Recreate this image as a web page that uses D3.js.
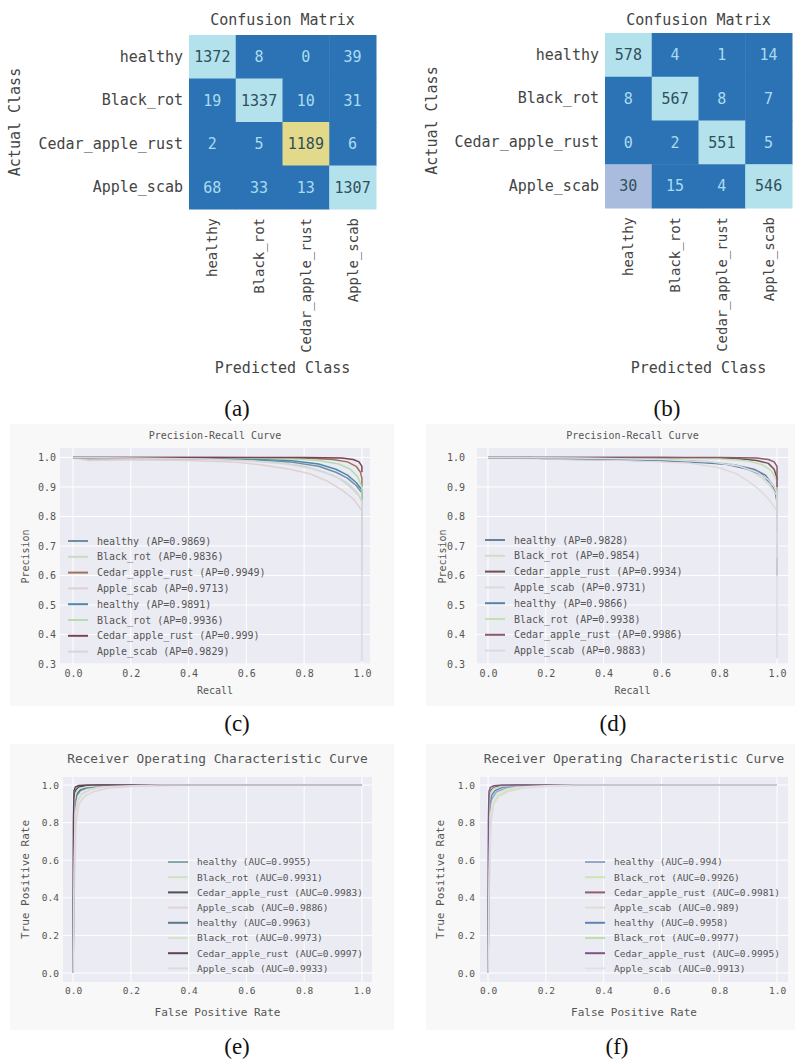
<!DOCTYPE html>
<html>
<head>
<meta charset="utf-8">
<script src="https://cdn.jsdelivr.net/npm/d3@7"></script>
<style>
  body { margin: 0; background: #fff; }
  svg { display: block; }
  text { font-family: "DejaVu Sans Mono", monospace; }
</style>
</head>
<body>
<svg width="795" height="1061"></svg>
<script>
// ---- data ----
const classes = ['healthy', 'Black_rot', 'Cedar_apple_rust', 'Apple_scab'];

const cmA = [
  [1372, 8, 0, 39],
  [19, 1337, 10, 31],
  [2, 5, 1189, 6],
  [68, 33, 13, 1307]
];
const cmB = [
  [578, 4, 1, 14],
  [8, 567, 8, 7],
  [0, 2, 551, 5],
  [30, 15, 4, 546]
];

const apC = [0.9869, 0.9836, 0.9949, 0.9713, 0.9891, 0.9936, 0.999, 0.9829];
const apD = [0.9828, 0.9854, 0.9934, 0.9731, 0.9866, 0.9938, 0.9986, 0.9883];
const aucE = [0.9955, 0.9931, 0.9983, 0.9886, 0.9963, 0.9973, 0.9997, 0.9933];
const aucF = [0.994, 0.9926, 0.9981, 0.989, 0.9958, 0.9977, 0.9995, 0.9913];

const prTicksX = [0, 0.2, 0.4, 0.6, 0.8, 1.0];
const prTicksY = [0.3, 0.4, 0.5, 0.6, 0.7, 0.8, 0.9, 1.0];
const rocTicksX = [0, 0.2, 0.4, 0.6, 0.8, 1.0];
const rocTicksY = [0, 0.2, 0.4, 0.6, 0.8, 1.0];

// precision-recall points [recall, precision]
const prC = [
  [[0,1],[0.02,1],[0.05,0.996],[0.3,0.996],[0.5,0.994],[0.65,0.99],[0.75,0.985],[0.85,0.97],[0.91,0.95],[0.95,0.93],[0.98,0.905],[1,0.88],[1,0.84]],
  [[0,1],[0.1,0.998],[0.4,0.996],[0.6,0.99],[0.72,0.982],[0.8,0.97],[0.87,0.95],[0.92,0.93],[0.96,0.9],[0.99,0.87],[1,0.85],[1,0.70]],
  [[0,1],[0.5,1],[0.8,0.998],[0.9,0.993],[0.95,0.985],[0.98,0.97],[0.995,0.95],[1,0.93],[1,0.9]],
  [[0,1],[0.05,0.99],[0.2,0.992],[0.4,0.99],[0.55,0.985],[0.65,0.975],[0.75,0.96],[0.82,0.945],[0.88,0.92],[0.93,0.89],[0.97,0.86],[1,0.82],[1,0.62]],
  [[0,1],[0.3,0.998],[0.6,0.995],[0.75,0.99],[0.85,0.978],[0.91,0.96],[0.95,0.94],[0.98,0.915],[1,0.89],[1,0.86]],
  [[0,1],[0.5,0.999],[0.75,0.996],[0.85,0.99],[0.92,0.978],[0.96,0.96],[0.985,0.935],[1,0.9],[1,0.72]],
  [[0,1],[0.8,1],[0.93,0.998],[0.97,0.993],[0.99,0.985],[1,0.97],[1,0.95]],
  [[0,1],[0.2,0.998],[0.45,0.995],[0.62,0.988],[0.74,0.978],[0.83,0.962],[0.9,0.94],[0.95,0.915],[0.985,0.88],[1,0.85],[1,0.31]]
];
const prD = [
  [[0,1],[0.15,1],[0.2,0.995],[0.4,0.992],[0.6,0.988],[0.75,0.982],[0.85,0.975],[0.92,0.96],[0.96,0.94],[0.99,0.9],[1,0.85],[1,0.6]],
  [[0,1],[0.3,0.998],[0.6,0.994],[0.75,0.988],[0.85,0.975],[0.91,0.955],[0.95,0.93],[0.98,0.9],[1,0.87],[1,0.7]],
  [[0,1],[0.6,1],[0.85,0.997],[0.93,0.99],[0.97,0.98],[0.99,0.96],[1,0.93],[1,0.8]],
  [[0,1],[0.2,0.995],[0.5,0.99],[0.7,0.98],[0.8,0.965],[0.86,0.945],[0.9,0.92],[0.94,0.89],[0.97,0.86],[1,0.82],[1,0.66]],
  [[0,1],[0.2,0.997],[0.5,0.993],[0.7,0.988],[0.82,0.978],[0.9,0.96],[0.95,0.94],[0.98,0.91],[1,0.88],[1,0.75]],
  [[0,1],[0.5,1],[0.8,0.996],[0.9,0.988],[0.95,0.975],[0.98,0.955],[1,0.92],[1,0.72]],
  [[0,1],[0.8,1],[0.93,0.998],[0.97,0.993],[0.99,0.985],[1,0.97],[1,0.9]],
  [[0,1],[0.3,0.998],[0.6,0.993],[0.77,0.985],[0.87,0.97],[0.93,0.95],[0.97,0.925],[0.99,0.9],[1,0.88],[1,0.32]]
];

// ROC points [fpr, tpr]
const rocE = [
  [[0,0],[0.003,0.6],[0.006,0.88],[0.012,0.94],[0.025,0.97],[0.05,0.985],[0.1,0.994],[0.2,0.998],[0.35,1],[1,1]],
  [[0,0],[0.004,0.55],[0.008,0.85],[0.015,0.91],[0.03,0.95],[0.06,0.975],[0.1,0.988],[0.2,0.996],[0.3,1],[1,1]],
  [[0,0],[0.002,0.7],[0.005,0.95],[0.01,0.975],[0.02,0.99],[0.05,0.997],[0.1,1],[1,1]],
  [[0,0],[0.004,0.45],[0.01,0.8],[0.02,0.9],[0.04,0.94],[0.07,0.965],[0.12,0.983],[0.2,0.993],[0.35,0.999],[1,1]],
  [[0,0],[0.003,0.65],[0.006,0.9],[0.012,0.95],[0.025,0.975],[0.05,0.99],[0.1,0.997],[0.2,1],[1,1]],
  [[0,0],[0.002,0.7],[0.005,0.92],[0.01,0.96],[0.02,0.98],[0.05,0.993],[0.1,0.998],[0.18,1],[1,1]],
  [[0,0],[0.001,0.8],[0.003,0.97],[0.008,0.99],[0.02,0.998],[0.05,1],[1,1]],
  [[0,0],[0.003,0.55],[0.007,0.84],[0.015,0.92],[0.03,0.955],[0.06,0.978],[0.1,0.99],[0.2,0.997],[0.3,1],[1,1]]
];
const rocF = [
  [[0,0],[0.003,0.55],[0.007,0.86],[0.014,0.93],[0.03,0.965],[0.06,0.982],[0.12,0.993],[0.22,0.998],[0.35,1],[1,1]],
  [[0,0],[0.004,0.5],[0.009,0.82],[0.018,0.9],[0.035,0.945],[0.07,0.972],[0.12,0.987],[0.22,0.996],[0.32,1],[1,1]],
  [[0,0],[0.002,0.7],[0.005,0.94],[0.01,0.972],[0.02,0.988],[0.05,0.996],[0.1,1],[1,1]],
  [[0,0],[0.004,0.45],[0.01,0.8],[0.02,0.9],[0.04,0.94],[0.07,0.965],[0.12,0.983],[0.22,0.994],[0.35,1],[1,1]],
  [[0,0],[0.003,0.62],[0.006,0.89],[0.012,0.945],[0.025,0.972],[0.05,0.988],[0.1,0.996],[0.2,1],[1,1]],
  [[0,0],[0.002,0.7],[0.005,0.92],[0.01,0.962],[0.02,0.982],[0.05,0.994],[0.1,0.998],[0.18,1],[1,1]],
  [[0,0],[0.001,0.8],[0.003,0.965],[0.008,0.988],[0.02,0.997],[0.05,1],[1,1]],
  [[0,0],[0.003,0.52],[0.007,0.83],[0.015,0.915],[0.03,0.952],[0.06,0.976],[0.1,0.989],[0.2,0.997],[0.3,1],[1,1]]
];

// ---- styles ----
const prColorsC = ['#6f8ea6', '#c8dcc2', '#a0705a', '#e2cfcf', '#4f88aa', '#b6dcae', '#7a4252', '#d6d6df'];
const prColorsD = ['#6a7f98', '#d3dcc6', '#705050', '#e0d9d9', '#5584aa', '#c2e0b0', '#8c5a6a', '#d9dae4'];
const rocColorsE = ['#88a7ae', '#cfe3bd', '#505050', '#e6d2d2', '#5a7888', '#d2e8c6', '#61405a', '#dcdbe5'];
const rocColorsF = ['#95a9c6', '#cbe6ae', '#8f5f6f', '#e4dcd2', '#6083b4', '#bfe0a6', '#7e5486', '#dfe1ea'];

const BLUE = '#2c73b6', CYAN = '#b3e2ec', YELLOW = '#e2d98a', LILAC = '#a9bcdd';

const svg = d3.select('svg');

function panelLabel(txt, x, y) {
  svg.append('text').attr('x', x).attr('y', y)
    .attr('text-anchor', 'middle')
    .style('font-family', '"Liberation Serif", "Times New Roman", serif')
    .style('font-size', '23px').attr('fill', '#111')
    .text(txt);
}

function drawMatrix(cfg) {
  const g = svg.append('g');
  const x = d3.scaleBand().domain(d3.range(4)).range([cfg.left, cfg.right]);
  const y = d3.scaleBand().domain(d3.range(4)).range([cfg.top, cfg.bottom]);
  const cells = cfg.data.flatMap((row, i) => row.map((v, j) => ({ i, j, v })));

  g.selectAll('rect.cell').data(cells).join('rect')
    .attr('class', 'cell')
    .attr('x', d => x(d.j)).attr('y', d => y(d.i))
    .attr('width', x.bandwidth() + 0.5).attr('height', y.bandwidth() + 0.5)
    .attr('fill', d => cfg.color(d.v));

  g.selectAll('text.val').data(cells).join('text')
    .attr('class', 'val')
    .attr('x', d => x(d.j) + x.bandwidth() / 2)
    .attr('y', d => y(d.i) + y.bandwidth() / 2)
    .attr('dy', '0.35em').attr('text-anchor', 'middle')
    .style('font-size', '15px')
    .attr('fill', d => cfg.color(d.v) === BLUE ? '#a9dcee' : '#2f4f5c')
    .text(d => d.v);

  const ya = g.append('g').attr('transform', `translate(${cfg.left},0)`)
    .call(d3.axisLeft(y).tickFormat(i => classes[i]).tickSize(0).tickPadding(6));
  ya.select('.domain').remove();
  ya.selectAll('text').style('font-size', '15px').style('font-family', '"DejaVu Sans Mono", monospace').attr('fill', '#444');

  const xa = g.append('g').attr('transform', `translate(0,${cfg.bottom})`)
    .call(d3.axisBottom(x).tickFormat(i => classes[i]).tickSize(0));
  xa.select('.domain').remove();
  xa.selectAll('text')
    .attr('transform', 'rotate(-90)').attr('text-anchor', 'end')
    .attr('x', -9).attr('y', 0).attr('dy', '0.35em')
    .style('font-size', '14px').style('font-family', '"DejaVu Sans Mono", monospace').attr('fill', '#444');

  const cx = (cfg.left + cfg.right) / 2;
  g.append('text').attr('x', cx).attr('y', 25).attr('text-anchor', 'middle')
    .style('font-size', '15px').attr('fill', '#444').text('Confusion Matrix');
  g.append('text').attr('x', cx).attr('y', 373).attr('text-anchor', 'middle')
    .style('font-size', '15px').attr('fill', '#444').text('Predicted Class');
  g.append('text').attr('transform', `translate(${cfg.ylabX},${(cfg.top + cfg.bottom) / 2}) rotate(-90)`)
    .attr('text-anchor', 'middle').attr('dy', '0.35em')
    .style('font-size', '15px').attr('fill', '#444').text('Actual Class');
}

let clipId = 0;
function drawCurves(cfg) {
  const g = svg.append('g');
  const x = d3.scaleLinear().domain(cfg.xDom).range([cfg.left, cfg.right]);
  const y = d3.scaleLinear().domain(cfg.yDom).range([cfg.bottom, cfg.top]);

  // faint figure face behind the axes
  g.append('rect').attr('x', cfg.fig[0]).attr('y', cfg.fig[1])
    .attr('width', cfg.fig[2]).attr('height', cfg.fig[3]).attr('fill', '#f8f8f8');

  g.append('rect').attr('x', cfg.left).attr('y', cfg.top)
    .attr('width', cfg.right - cfg.left).attr('height', cfg.bottom - cfg.top)
    .attr('fill', '#ebebf3');

  g.selectAll('line.gx').data(cfg.ticksX).join('line').attr('class', 'gx')
    .attr('x1', d => x(d)).attr('x2', d => x(d))
    .attr('y1', cfg.top).attr('y2', cfg.bottom)
    .attr('stroke', '#fff').attr('stroke-width', 1);
  g.selectAll('line.gy').data(cfg.ticksY).join('line').attr('class', 'gy')
    .attr('y1', d => y(d)).attr('y2', d => y(d))
    .attr('x1', cfg.left).attr('x2', cfg.right)
    .attr('stroke', '#fff').attr('stroke-width', 1);

  const id = 'clip' + (clipId++);
  g.append('clipPath').attr('id', id).append('rect')
    .attr('x', cfg.left).attr('y', cfg.top)
    .attr('width', cfg.right - cfg.left).attr('height', cfg.bottom - cfg.top);

  const line = d3.line().x(d => x(d[0])).y(d => y(d[1]));
  g.append('g').attr('clip-path', `url(#${id})`)
    .selectAll('path').data(cfg.series).join('path')
    .attr('d', line).attr('fill', 'none')
    .attr('stroke', (d, i) => cfg.colors[i]).attr('stroke-width', 1.5)
    .attr('stroke-linejoin', 'round');

  const xa = g.append('g').attr('transform', `translate(0,${cfg.bottom})`)
    .call(d3.axisBottom(x).tickValues(cfg.ticksX).tickFormat(d3.format('.1f')).tickSize(0));
  xa.select('.domain').remove();
  xa.selectAll('text').attr('y', cfg.xGap).attr('dy', '0.35em')
    .style('font-size', cfg.tickFont + 'px').style('font-family', '"DejaVu Sans Mono", monospace').attr('fill', '#555');

  const ya = g.append('g').attr('transform', `translate(${cfg.left},0)`)
    .call(d3.axisLeft(y).tickValues(cfg.ticksY).tickFormat(d3.format('.1f')).tickSize(0).tickPadding(cfg.yGap));
  ya.select('.domain').remove();
  ya.selectAll('text')
    .style('font-size', cfg.tickFont + 'px').style('font-family', '"DejaVu Sans Mono", monospace').attr('fill', '#555');

  const cx = (cfg.left + cfg.right) / 2;
  g.append('text').attr('x', cx).attr('y', cfg.titleY).attr('dy', '0.35em')
    .attr('text-anchor', 'middle').style('font-size', cfg.titleFont + 'px')
    .attr('fill', '#555').text(cfg.title);
  g.append('text').attr('x', cx).attr('y', cfg.xlabY).attr('dy', '0.35em')
    .attr('text-anchor', 'middle').style('font-size', cfg.labFont + 'px')
    .attr('fill', '#555').text(cfg.xlab);
  g.append('text')
    .attr('transform', `translate(${cfg.ylabX},${(cfg.top + cfg.bottom) / 2}) rotate(-90)`)
    .attr('dy', '0.35em').attr('text-anchor', 'middle')
    .style('font-size', cfg.labFont + 'px').attr('fill', '#555').text(cfg.ylab);

  const leg = g.append('g');
  const rows = leg.selectAll('g').data(cfg.labels).join('g')
    .attr('transform', (d, i) => `translate(${cfg.legX},${cfg.legY + i * cfg.legStep})`);
  rows.append('line').attr('x1', 0).attr('x2', 20).attr('y1', 0).attr('y2', 0)
    .attr('stroke', (d, i) => cfg.colors[i]).attr('stroke-width', 2);
  rows.append('text').attr('x', 29).attr('dy', '0.35em')
    .style('font-size', cfg.legFont + 'px').attr('fill', '#555').text(d => d);
}

// ---- confusion matrices ----
drawMatrix({
  data: cmA, left: 189, right: 376, top: 35, bottom: 209, ylabX: 15,
  color: d3.scaleThreshold().domain([200, 1250]).range([BLUE, YELLOW, CYAN])
});
drawMatrix({
  data: cmB, left: 605, right: 792, top: 33, bottom: 208, ylabX: 432,
  color: d3.scaleThreshold().domain([20, 200]).range([BLUE, LILAC, CYAN])
});

// ---- precision-recall ----
const prBase = {
  top: 448, bottom: 665, yDom: [0.297, 1.032],
  ticksX: prTicksX, ticksY: prTicksY,
  title: 'Precision-Recall Curve', xlab: 'Recall', ylab: 'Precision',
  titleY: 435, xlabY: 690, xGap: 8,
  tickFont: 10, titleFont: 10, labFont: 10, legFont: 10, legStep: 15.8
};
drawCurves(Object.assign({}, prBase, {
  left: 60, right: 370, xDom: [-0.045, 1.028], yGap: 4, ylabX: 25,
  fig: [10, 424, 384, 282],
  series: prC, colors: prColorsC,
  labels: apC.map((v, i) => `${classes[i % 4]} (AP=${v})`),
  legX: 68, legY: 541
}));
drawCurves(Object.assign({}, prBase, {
  left: 477, right: 788, xDom: [-0.038, 1.038], yGap: 12, ylabX: 442,
  fig: [426, 424, 369, 282],
  series: prD, colors: prColorsD,
  labels: apD.map((v, i) => `${classes[i % 4]} (AP=${v})`),
  legX: 485, legY: 540
}));

// ---- ROC ----
const rocBase = {
  top: 777, bottom: 982, yDom: [-0.048, 1.043],
  ticksX: rocTicksX, ticksY: rocTicksY,
  title: 'Receiver Operating Characteristic Curve', xlab: 'False Positive Rate', ylab: 'True Positive Rate',
  titleY: 759, xlabY: 1012, xGap: 9,
  tickFont: 9.5, titleFont: 12.8, labFont: 11, legFont: 9.5, legStep: 15.2
};
drawCurves(Object.assign({}, rocBase, {
  left: 63, right: 372, xDom: [-0.035, 1.035], yGap: 4, ylabX: 25,
  fig: [10, 744, 384, 286],
  series: rocE, colors: rocColorsE,
  labels: aucE.map((v, i) => `${classes[i % 4]} (AUC=${v})`),
  legX: 168, legY: 862
}));
drawCurves(Object.assign({}, rocBase, {
  left: 480, right: 788, xDom: [-0.028, 1.038], yGap: 5, ylabX: 440,
  fig: [426, 744, 369, 286],
  series: rocF, colors: rocColorsF,
  labels: aucF.map((v, i) => `${classes[i % 4]} (AUC=${v})`),
  legX: 585, legY: 862
}));

// ---- panel captions ----
panelLabel('(a)', 237, 416);
panelLabel('(b)', 667, 416);
panelLabel('(c)', 237, 731);
panelLabel('(d)', 613, 731);
panelLabel('(e)', 237, 1054);
panelLabel('(f)', 617, 1054);
</script>
</body>
</html>
